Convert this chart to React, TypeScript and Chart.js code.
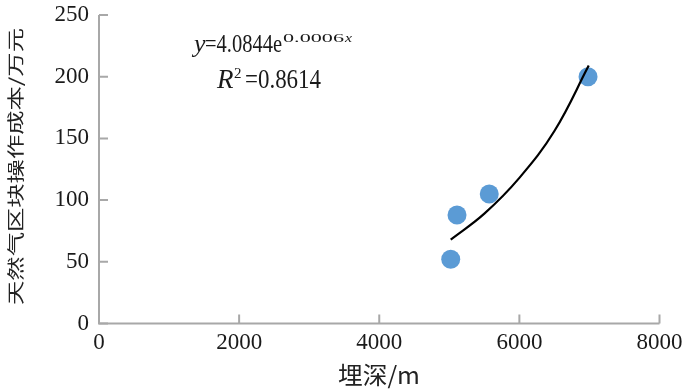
import React, { useEffect, useRef } from "react";
import { Chart, registerables } from "chart.js";
Chart.register(...registerables);

// Observed data points (depth in m, cost in 万元)
const depth = [5020, 5110, 5570, 6980];
const cost = [52, 88, 105, 200];
// Trendline
const trendDepth = [5020, 5500, 6000, 6500, 6990];
const trendCost = [68, 89, 118, 156, 209];

const xTicks = [0, 2000, 4000, 6000, 8000];
const yTicks = [0, 50, 100, 150, 200, 250];

const yTitle = "天然气区块操作成本/万元";
const xTitle = "埋深/m";
const eqCoef = "=4.0844e";
const eqExp = "0.0006";
const r2Value = "=0.8614";

const SERIF = '"Liberation Serif", "Times New Roman", serif';
const CJK = '"Noto Sans CJK SC", sans-serif';

function drawRun(
  ctx: CanvasRenderingContext2D,
  text: string,
  font: string,
  x: number,
  baseline: number,
  width?: number
) {
  ctx.font = font;
  const w = ctx.measureText(text).width;
  ctx.save();
  ctx.translate(x, baseline);
  if (width) ctx.scale(width / w, 1);
  ctx.textAlign = "left";
  ctx.textBaseline = "alphabetic";
  ctx.fillText(text, 0, 0);
  ctx.restore();
  return width ?? w;
}

export default function App() {
  const ref = useRef<HTMLCanvasElement>(null);
  useEffect(() => {
    const overlay = {
      id: "overlay",
      afterDraw(chart: any) {
        const ctx = chart.ctx as CanvasRenderingContext2D;
        const xs = chart.scales.x;
        const ys = chart.scales.y;
        const left = xs.left;
        const right = xs.right;
        const top = ys.top;
        const bottom = ys.bottom;
        ctx.save();
        ctx.strokeStyle = "#a8a8a8";
        ctx.lineWidth = 2;
        ctx.beginPath();
        ctx.moveTo(left, top);
        ctx.lineTo(left, bottom);
        ctx.lineTo(right, bottom);
        ctx.stroke();
        ctx.beginPath();
        xTicks.forEach((v) => {
          const p = xs.getPixelForValue(v);
          ctx.moveTo(p, bottom);
          ctx.lineTo(p, bottom - 9);
        });
        yTicks.forEach((v) => {
          const p = ys.getPixelForValue(v);
          ctx.moveTo(left, p);
          ctx.lineTo(left + 9, p);
        });
        ctx.stroke();

        // equation text
        ctx.fillStyle = "#1a1a1a";
        drawRun(ctx, "y", `italic 26px ${SERIF}`, 194, 52);
        drawRun(ctx, eqCoef, `26px ${SERIF}`, 205, 52, 77);
        drawRun(ctx, eqExp, `13px ${SERIF}`, 283, 42, 61);
        drawRun(ctx, "x", `italic 13px ${SERIF}`, 345, 42, 7);

        drawRun(ctx, "R", `italic 27px ${SERIF}`, 217, 88);
        drawRun(ctx, "2", `15px ${SERIF}`, 234, 78);
        drawRun(ctx, r2Value, `27px ${SERIF}`, 245, 88, 76);

        // y title
        ctx.font = `17px ${CJK}`;
        ctx.fillStyle = "#222";
        const wy = ctx.measureText(yTitle).width;
        ctx.save();
        ctx.translate(15.5, 166.5);
        ctx.rotate(-Math.PI / 2);
        ctx.scale(277 / wy, 1);
        ctx.textAlign = "center";
        ctx.textBaseline = "middle";
        ctx.fillText(yTitle, 0, 0);
        ctx.restore();

        // x title
        ctx.font = `24px ${CJK}`;
        const wx = ctx.measureText(xTitle).width;
        ctx.save();
        ctx.translate(379, 375);
        ctx.scale(82 / wx, 1);
        ctx.textAlign = "center";
        ctx.textBaseline = "middle";
        ctx.fillText(xTitle, 0, 0);
        ctx.restore();
        ctx.restore();
      },
    };

    const chart = new Chart(ref.current!, {
      type: "scatter",
      data: {
        datasets: [
          {
            type: "line",
            data: trendDepth.map((x, i) => ({ x, y: trendCost[i] })),
            borderColor: "#000",
            borderWidth: 2.2,
            pointRadius: 0,
            tension: 0.4,
            fill: false,
            order: 0,
          } as any,
          {
            data: depth.map((x, i) => ({ x, y: cost[i] })),
            backgroundColor: "#5b9bd5",
            borderWidth: 0,
            pointRadius: 9.5,
            order: 1,
          },
        ],
      },
      options: {
        responsive: false,
        animation: false,
        layout: { padding: { top: 15, right: 40.5, left: 0, bottom: 0 } },
        plugins: { legend: { display: false }, tooltip: { enabled: false } },
        scales: {
          x: {
            type: "linear",
            min: 0,
            max: 8000,
            grid: { display: false, drawTicks: false },
            border: { display: false },
            ticks: {
              stepSize: 2000,
              padding: 6,
              color: "#1a1a1a",
              font: { family: SERIF, size: 23 },
              callback: (v: any) => String(v),
            },
            afterFit: (s: any) => {
              s.height = 67.5;
              s.paddingLeft = 0;
              s.paddingRight = 0;
            },
          },
          y: {
            type: "linear",
            min: 0,
            max: 250,
            grid: { display: false, drawTicks: false },
            border: { display: false },
            ticks: {
              stepSize: 50,
              padding: 10,
              color: "#1a1a1a",
              font: { family: SERIF, size: 23 },
              callback: (v: any) => String(v),
            },
            afterFit: (s: any) => {
              s.width = 99;
              s.paddingTop = 0;
              s.paddingBottom = 0;
            },
          },
        },
      },
      plugins: [overlay],
    });
    return () => chart.destroy();
  }, []);
  return (
    <div style={{ position: "fixed", left: 0, top: 0, width: 700, height: 391, background: "#fff" }}>
      <canvas ref={ref} width={700} height={391} />
    </div>
  );
}
